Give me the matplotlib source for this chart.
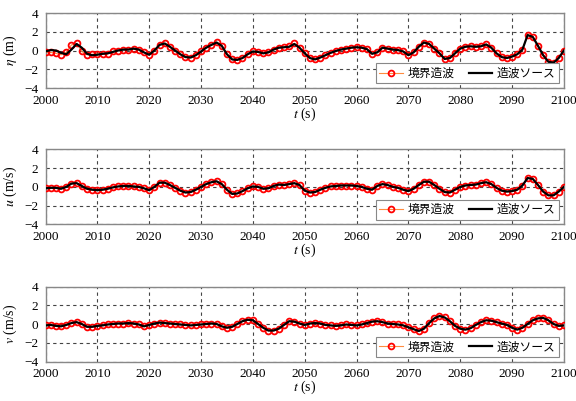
import numpy as np
import matplotlib
matplotlib.use('Agg')
import matplotlib.pyplot as plt

plt.rcParams['font.family'] = ['Liberation Serif', 'Noto Sans CJK JP']
plt.rcParams['mathtext.fontset'] = 'stix'

# time axis (s)
t = np.arange(2000, 2101)

# water level eta (m) - wave source (black)
eta_src = [-0.1, 0.05, 0.0, -0.25, -0.4, 0.1, 0.7, 0.3, -0.35, -0.5,
           -0.45, -0.35, -0.3, -0.15, 0.0, 0.1, 0.1, 0.2, 0.1, -0.2,
           -0.45, 0.0, 0.6, 0.75, 0.4, 0.0, -0.4, -0.7, -0.75, -0.5,
           -0.1, 0.3, 0.6, 0.85, 0.5, -0.4, -0.95, -1.0, -0.8, -0.4,
           -0.1, -0.15, -0.3, -0.2, 0.1, 0.3, 0.35, 0.4, 0.7, 0.3,
           -0.3, -0.8, -0.95, -0.75, -0.5, -0.25, -0.05, 0.1, 0.2, 0.3,
           0.35, 0.3, 0.15, -0.35, -0.2, 0.3, 0.2, 0.1, 0.05, -0.1,
           -0.5, -0.2, 0.4, 0.85, 0.7, 0.2, -0.3, -0.9, -0.8, -0.3,
           0.2, 0.4, 0.45, 0.4, 0.45, 0.65, 0.3, -0.3, -0.7, -0.8,
           -0.65, -0.4, 0.1, 1.65, 1.45, 0.5, -0.5, -1.2, -1.3, -0.8,
           0.0]
# water level eta (m) - boundary wave generation (red)
eta_bnd = [-0.15, -0.2, -0.3, -0.45, -0.2, 0.6, 0.75, -0.1, -0.45, -0.4,
           -0.35, -0.4, -0.35, -0.1, 0.0, 0.1, 0.1, 0.2, 0.1, -0.2,
           -0.45, 0.0, 0.6, 0.75, 0.4, 0.0, -0.4, -0.7, -0.75, -0.5,
           -0.1, 0.3, 0.6, 0.9, 0.5, -0.4, -0.95, -1.0, -0.8, -0.4,
           -0.1, -0.15, -0.3, -0.2, 0.1, 0.3, 0.35, 0.45, 0.75, 0.3,
           -0.3, -0.8, -0.95, -0.75, -0.5, -0.25, -0.05, 0.1, 0.2, 0.3,
           0.35, 0.3, 0.15, -0.35, -0.2, 0.3, 0.2, 0.1, 0.05, -0.1,
           -0.5, -0.2, 0.4, 0.85, 0.7, 0.2, -0.3, -0.9, -0.8, -0.3,
           0.2, 0.4, 0.45, 0.4, 0.45, 0.65, 0.3, -0.3, -0.7, -0.8,
           -0.65, -0.4, 0.1, 1.7, 1.45, 0.5, -0.5, -1.2, -1.3, -0.8,
           0.0]

# velocity u (m/s)
u_src = [-0.15, -0.1, -0.1, -0.2, 0.0, 0.35, 0.4, 0.1, -0.2, -0.3,
         -0.35, -0.3, -0.2, -0.05, 0.05, 0.1, 0.1, 0.05, 0.0, -0.15,
         -0.35, 0.0, 0.45, 0.45, 0.2, -0.1, -0.4, -0.6, -0.55, -0.3,
         0.0, 0.3, 0.5, 0.6, 0.3, -0.3, -0.75, -0.7, -0.45, -0.15,
         0.05, 0.0, -0.2, -0.15, 0.1, 0.25, 0.2, 0.3, 0.4, 0.2,
         -0.4, -0.6, -0.55, -0.3, -0.1, 0.05, 0.1, 0.15, 0.15, 0.15,
         0.1, 0.0, -0.2, -0.3, 0.1, 0.3, 0.2, 0.0, -0.1, -0.3,
         -0.45, -0.2, 0.2, 0.55, 0.55, 0.2, -0.2, -0.55, -0.6, -0.3,
         0.0, 0.15, 0.2, 0.25, 0.4, 0.5, 0.3, -0.1, -0.4, -0.5,
         -0.45, -0.3, 0.15, 0.95, 0.85, 0.2, -0.5, -0.9, -0.9, -0.5,
         0.0]
u_bnd = u_src

# velocity v (m/s)
v_src = [-0.15, -0.1, -0.2, -0.25, -0.1, 0.1, 0.2, 0.0, -0.3, -0.3,
         -0.2, -0.15, -0.05, 0.0, 0.05, 0.05, 0.1, 0.05, -0.05, -0.25,
         -0.1, 0.05, 0.15, 0.1, 0.05, 0.0, -0.05, -0.1, -0.15, -0.1,
         -0.05, 0.0, 0.05, 0.0, -0.25, -0.4, -0.3, 0.0, 0.3, 0.45,
         0.4, 0.0, -0.4, -0.7, -0.7, -0.5, -0.1, 0.3, 0.25, 0.05,
         -0.1, 0.05, 0.1, 0.05, -0.1, -0.15, -0.2, -0.15, -0.05, -0.1,
         -0.15, -0.05, 0.1, 0.25, 0.3, 0.2, 0.05, 0.0, -0.05, -0.15,
         -0.35, -0.55, -0.75, -0.5, 0.1, 0.6, 0.85, 0.7, 0.3, -0.2,
         -0.5, -0.6, -0.45, -0.1, 0.2, 0.4, 0.35, 0.2, 0.05, -0.1,
         -0.4, -0.6, -0.4, 0.0, 0.4, 0.6, 0.65, 0.4, 0.0, -0.2,
         -0.15]
v_bnd = v_src

panels = [
    (eta_bnd, eta_src, r'$\eta$ (m)'),
    (u_bnd, u_src, r'$u$ (m/s)'),
    (v_bnd, v_src, r'$v$ (m/s)'),
]
bottoms = [0.7805, 0.4404, 0.0985]

fig = plt.figure(figsize=(5.76, 4.01), dpi=100)

for (bnd, src, ylab), b in zip(panels, bottoms):
    ax = fig.add_axes([0.079, b, 0.900, 0.187])
    ax.plot(t, bnd, color='#ff8c40', lw=0.8, marker='o', ms=4.2,
            mec='red', mfc='none', mew=1.3, label='境界造波', zorder=3)
    ax.plot(t, src, color='black', lw=1.6, label='造波ソース', zorder=4)

    ax.set_xlim(2000, 2100)
    ax.set_ylim(-4, 4)
    ax.set_xticks(np.arange(2000, 2101, 10))
    ax.set_yticks(np.arange(-4, 5, 2))
    ax.tick_params(length=0, labelsize=9.5, pad=5)
    ax.grid(True, ls=(0, (3, 3)), color='#444444', lw=0.8)
    for sp in ax.spines.values():
        sp.set_color('#888888')
        sp.set_linewidth(1.0)

    ax.set_ylabel(ylab, fontsize=10, labelpad=4)
    ax.set_xlabel(r'$t$ (s)', fontsize=10, labelpad=-1)

    leg = ax.legend(loc='lower right', ncol=2, fancybox=False,
                    edgecolor='#888888', framealpha=1,
                    prop={'family': ['Noto Sans CJK JP'], 'size': 8.5},
                    handlelength=2.0, columnspacing=1.2, handletextpad=0.4,
                    borderpad=0.3, borderaxespad=0.4)
    leg.get_frame().set_linewidth(0.8)

fig.savefig('out.png', dpi=100)
